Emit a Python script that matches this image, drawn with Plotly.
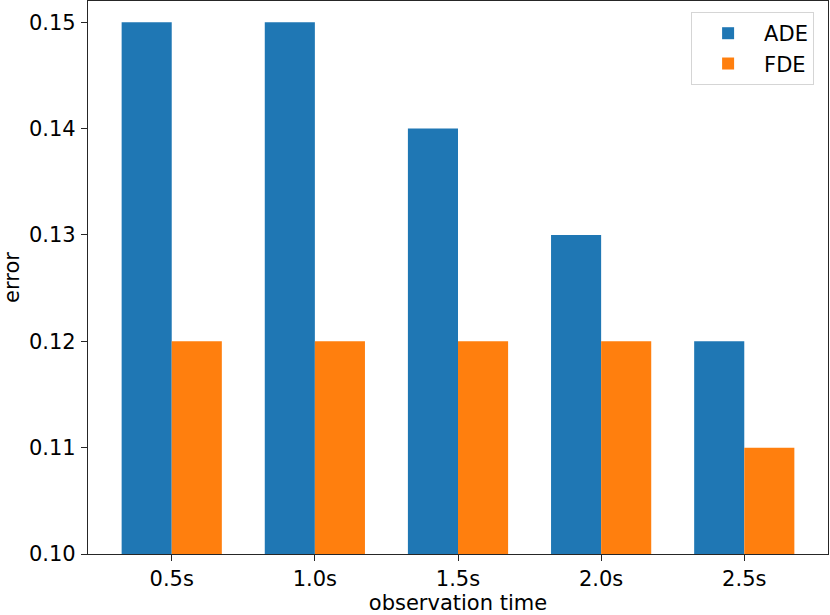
import plotly.graph_objects as go

# observation windows and the two error metrics
obs_time = ["0.5s", "1.0s", "1.5s", "2.0s", "2.5s"]
ade = [0.15, 0.15, 0.14, 0.13, 0.12]
fde = [0.12, 0.12, 0.12, 0.12, 0.11]

FONT = "DejaVu Sans"
SIZE = 21

fig = go.Figure()
fig.add_trace(go.Bar(x=obs_time, y=ade, name="ADE", marker_color="#1f77b4", marker_line_width=0))
fig.add_trace(go.Bar(x=obs_time, y=fde, name="FDE", marker_color="#ff7f0e", marker_line_width=0))

axis_style = dict(
    showline=True,
    linecolor="#262626",
    linewidth=1.3,
    mirror=True,
    ticks="outside",
    ticklen=6,
    tickwidth=1.3,
    tickcolor="#262626",
    showgrid=False,
    zeroline=False,
    tickfont=dict(family=FONT, size=SIZE, color="black"),
)

fig.update_layout(
    width=830,
    height=615,
    margin=dict(l=88, r=2, t=1, b=61),
    paper_bgcolor="white",
    plot_bgcolor="white",
    barmode="group",
    bargap=0.3,
    bargroupgap=0,
    font=dict(family=FONT, size=SIZE, color="black"),
    legend=dict(
        x=0.815,
        y=0.98,
        xanchor="left",
        yanchor="top",
        bgcolor="white",
        bordercolor="#d5d5d5",
        borderwidth=1,
        font=dict(family=FONT, size=21, color="black"),
        itemwidth=62,
    ),
    xaxis=dict(
        axis_style,
        range=[-0.585, 4.585],
        ticklabelstandoff=0,
        title=dict(text="observation time", standoff=0, font=dict(family=FONT, size=SIZE)),
    ),
    yaxis=dict(
        axis_style,
        range=[0.10, 0.152],
        tickvals=[0.10, 0.11, 0.12, 0.13, 0.14, 0.15],
        tickformat=".2f",
        ticklabelstandoff=1,
        title=dict(text="error", standoff=4, font=dict(family=FONT, size=SIZE)),
    ),
)

# drop the page's default body margin so the figure sits at the window's corner
fig.write_html(
    "out.html",
    config={"displayModeBar": False},
    post_script="document.body.style.margin='0';",
)
